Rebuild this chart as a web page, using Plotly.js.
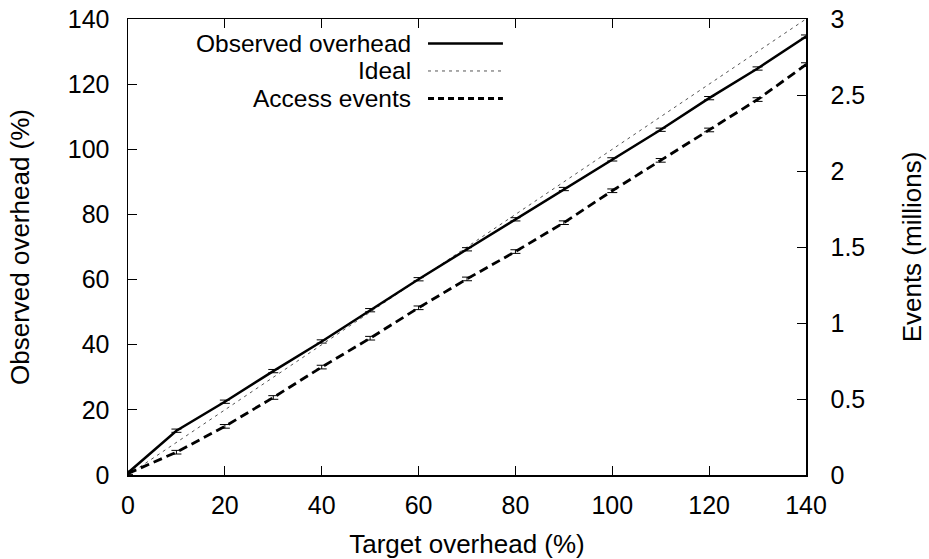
<!DOCTYPE html>
<html>
<head>
<meta charset="utf-8">
<script src="https://cdn.plot.ly/plotly-3.0.1.min.js"></script>
<style>
html,body{margin:0;padding:0;background:#fff;}
#chart{width:929px;height:559px;}
</style>
</head>
<body>
<div id="chart"></div>
<script>
// Data
const target = [0, 10, 20, 30, 40, 50, 60, 70, 80, 90, 100, 110, 120, 130, 140];
const observedOverhead = [0.7, 13.6, 22.5, 31.9, 41.0, 50.6, 60.1, 69.3, 78.5, 87.8, 96.9, 106.0, 115.7, 124.8, 134.6];
const accessEventsMillions = [0.01, 0.15, 0.32, 0.51, 0.71, 0.90, 1.10, 1.29, 1.47, 1.66, 1.87, 2.07, 2.27, 2.47, 2.70];
const idealX = [0, 140];
const idealY = [0, 140];
const observedErr = 0.5;
const eventsErr = 0.012;

const legendLabels = ["Observed overhead", "Ideal", "Access events"];

const FONT = '"Liberation Sans", Arial, Helvetica, sans-serif';
const FS = 25;
const TFS = 26;
const LFS = 24.5;

const traces = [
  {
    x: idealX, y: idealY, type: 'scatter', mode: 'lines', name: legendLabels[1],
    line: {color: '#555', width: 1, dash: '3px,4px'}, yaxis: 'y'
  },
  {
    x: target, y: observedOverhead, type: 'scatter', mode: 'lines', name: legendLabels[0],
    line: {color: '#000', width: 2.5},
    error_y: {type: 'constant', value: observedErr, color: '#000', thickness: 1, width: 5},
    yaxis: 'y'
  },
  {
    x: target, y: accessEventsMillions, type: 'scatter', mode: 'lines', name: legendLabels[2],
    line: {color: '#000', width: 2.8, dash: '9px,5px'},
    error_y: {type: 'constant', value: eventsErr, color: '#000', thickness: 1, width: 5},
    yaxis: 'y2'
  }
];

// legend (gnuplot-style: right-aligned text, sample on the right)
const legRows = [0.9463, 0.886, 0.8257];
const legStyles = [
  {color: '#000', width: 2.5, dash: 'solid'},
  {color: '#555', width: 1, dash: '3px,4px'},
  {color: '#000', width: 2.8, dash: '6px,4px'}
];
const annotations = legendLabels.map((t, i) => ({
  text: t, xref: 'paper', yref: 'paper', x: 0.419, y: legRows[i],
  xanchor: 'right', yanchor: 'middle', showarrow: false, borderpad: 0,
  font: {family: FONT, size: LFS, color: '#000'}
}));
const shapes = legendLabels.map((t, i) => ({
  type: 'line', xref: 'paper', yref: 'paper', x0: 0.4425, x1: 0.553,
  y0: legRows[i], y1: legRows[i], line: legStyles[i]
}));

const axisCommon = {
  showgrid: false, zeroline: false, showline: true, linecolor: '#000', linewidth: 1.5,
  ticks: 'inside', ticklen: 9, tickwidth: 1, tickcolor: '#000',
  tickfont: {family: FONT, size: FS, color: '#000'}
};

const layout = {
  width: 929, height: 559,
  margin: {l: 128, r: 123, t: 19, b: 84},
  paper_bgcolor: '#fff', plot_bgcolor: '#fff',
  showlegend: false,
  font: {family: FONT, size: FS, color: '#000'},
  xaxis: Object.assign({}, axisCommon, {
    range: [0, 140], dtick: 20, tick0: 0, mirror: 'ticks', ticklabelstandoff: 7,
    title: {text: 'Target overhead (%)', font: {family: FONT, size: TFS}, standoff: 17}
  }),
  yaxis: Object.assign({}, axisCommon, {
    range: [0, 140], dtick: 20, tick0: 0, mirror: true, ticklabelstandoff: 12,
    title: {text: 'Observed overhead (%)', font: {family: FONT, size: TFS}, standoff: 30}
  }),
  yaxis2: Object.assign({}, axisCommon, {
    range: [0, 3], dtick: 0.5, tick0: 0, overlaying: 'y', side: 'right', ticklabelstandoff: 18,
    title: {text: 'Events (millions)', font: {family: FONT, size: TFS}, standoff: 38}
  }),
  annotations: annotations,
  shapes: shapes
};

Plotly.newPlot('chart', traces, layout, {staticPlot: true, displayModeBar: false});
</script>
</body>
</html>
